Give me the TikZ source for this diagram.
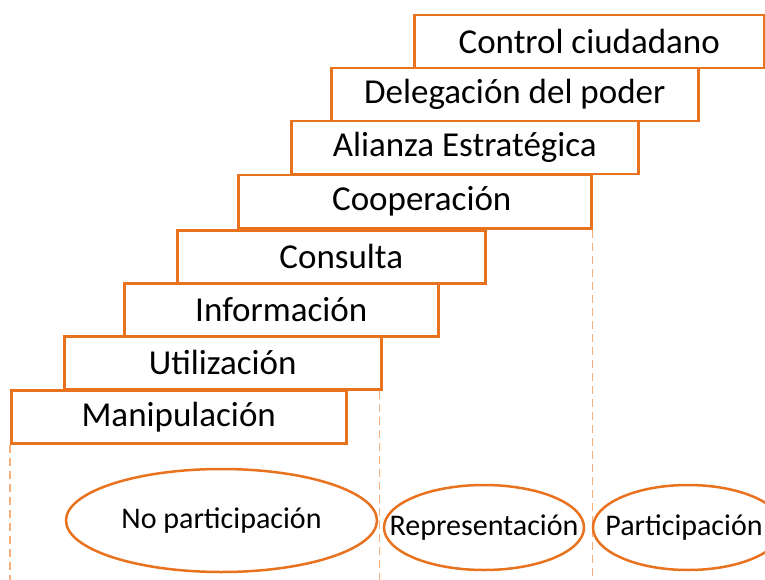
\documentclass[tikz,border=0pt]{standalone}
\usepackage{fontspec}
\setmainfont{Carlito}
\usetikzlibrary{shapes.geometric}
\definecolor{stepOrange}{RGB}{232,114,30}
\definecolor{lineOrange}{RGB}{245,175,125}

\tikzset{
  level/.style={draw=stepOrange, line width=2.5pt, fill=white, rectangle,
    anchor=north west, inner sep=0pt, minimum height=53pt,
    font=\fontsize{35}{40}\selectfont},
  group/.style={draw=stepOrange, line width=2.5pt, ellipse, inner sep=0pt},
  grouptext/.style={font=\fontsize{30}{34}\selectfont},
  divider/.style={draw=lineOrange, line width=1.5pt, dash pattern=on 8pt off 5pt},
}

\begin{document}
\begin{tikzpicture}[x=1pt,y=-1pt]
    \useasboundingbox (0,0) rectangle (765,580);

    % Steps of the ladder, bottom first
    \node[level, minimum width=335pt] (manip) at (10,389) {Manipulación\hspace{8pt}};
    \node[level, minimum width=317pt] (util) at (63,335) {Utilización\hspace{16pt}};
    \node[level, minimum width=314pt] (info) at (123,282) {Información\hspace{16pt}};
    \node[level, minimum width=308pt] (consulta) at (176,229) {\hspace{20pt}Consulta};
    \node[level, minimum width=353pt] (coop) at (237,174) {\hspace{14pt}Cooperación};
    \node[level, minimum width=347pt] (alianza) at (290,120) {Alianza Estratégica};
    \node[level, minimum width=367pt] (deleg) at (330,67) {Delegación del poder\hspace{40pt}};
    \node[level, minimum width=350pt] (control) at (413,14) {Control ciudadano\hspace{16pt}};

    % Dividers
    \coordinate (endA) at (manip.south west |- 0,580);
    \coordinate (endB) at ([xshift=-3pt]util.south east |- 0,580);
    \coordinate (endC) at (coop.south east |- 0,580);
    \coordinate (endD) at (control.south east |- 0,580);
    \draw[divider] (manip.south west) -- (endA);
    \draw[divider] ([xshift=-3pt]util.south east) -- (endB);
    \draw[divider] (coop.south east) -- (endC);
    \draw[divider] (control.south east) -- (endD);

    % Groups
    \node[group, minimum width=311pt, minimum height=103pt] (nopart) at (221.5,520.5) {};
    \node[grouptext] (nopartText) at (nopart) {No participación};
    \node[group, minimum width=200pt, minimum height=85pt] (repr) at (484,527.5) {};
    \node[grouptext] (reprText) at (repr) {Representación};
    \node[group, minimum width=190pt, minimum height=85pt] (part) at (688,527.5) {};
    \node[grouptext] (partText) at ([xshift=-4pt]part.center) {Participación};
\end{tikzpicture}
\end{document}
